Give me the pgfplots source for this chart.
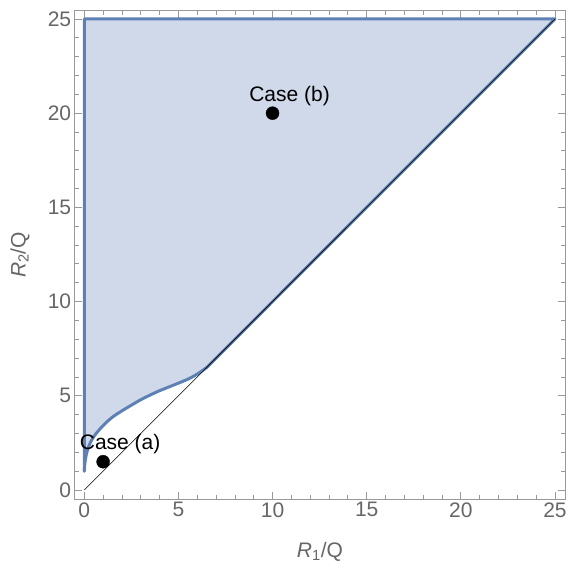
\documentclass[border=0pt]{standalone}
\usepackage{fontspec}
\setmainfont{Liberation Sans}
\usepackage{pgfplots}
\pgfplotsset{compat=1.18}
\definecolor{mblue}{rgb}{0.368,0.507,0.71}
\definecolor{mfill}{RGB}{207,217,233}
\definecolor{tgray}{gray}{0.4}
\definecolor{fgray}{gray}{0.6}
\begin{document}
\begin{tikzpicture}
\useasboundingbox (-74.7pt,-71pt) rectangle (493.3pt,499pt);
\begin{axis}[at={(0,0)},anchor=south west, scale only axis,
  width=490.6pt, height=488.3pt,
  xmin=-0.51, xmax=25.55, ymin=-0.48, ymax=25.44,
  xtick={0,5,...,25}, ytick={0,5,...,25}, minor tick num=4,
  tick align=inside, major tick length=7pt, minor tick length=4pt,
  axis line style={fgray, line width=0.8pt}, tick style={fgray, line width=0.8pt},
  ticklabel style={font=\fontsize{21}{21}\selectfont, text=tgray},
  /pgf/number format/assume math mode=true,
  xlabel={\textit{R}\textsubscript{1}/Q},
  ylabel={\textit{R}\textsubscript{2}/Q},
  label style={font=\fontsize{21}{21}\selectfont, text=tgray},
  xlabel style={at={(axis description cs:0.5,-0.108)}, anchor=center},
  ylabel style={at={(axis description cs:-0.1115,0.5)}, anchor=center},
  clip=false,
]
% filled region
\addplot[fill=mfill, draw=none] coordinates {
 (0,1) (0,25) (25,25) (6.5,6.5) (6,6.15) (5.5,5.88) (5,5.67) (4.5,5.47) (4,5.27)
 (3.5,5.04) (3,4.79) (2.5,4.5) (2,4.2) (1.5,3.87) (1,3.42) (0.5,2.83) (0.25,2.35)
 (0.1,1.85) (0.03,1.4) (0,1)
} -- cycle;
% boundary: left, top, diagonal
\addplot[mblue, line width=3pt, line join=round, line cap=round] coordinates {
 (0,1) (0,25) (25,25) (6.5,6.5)
};
% boundary curve
\addplot[mblue, line width=3pt, smooth, line cap=round] coordinates {
 (0,1) (0.03,1.4) (0.1,1.85) (0.25,2.35) (0.5,2.83) (1,3.42) (1.5,3.87) (2,4.2)
 (2.5,4.5) (3,4.79) (3.5,5.04) (4,5.27) (4.5,5.47) (5,5.67) (5.5,5.88) (6,6.15) (6.5,6.5)
};
% diagonal y = x
\addplot[black, line width=0.6pt] coordinates {(0,0) (25,25)};
% cases
\addplot[only marks, mark=*, mark size=6.5pt, black] coordinates {(1,1.5) (10,20)};
\node[anchor=base, font=\fontsize{21}{21}\selectfont, xshift=17pt, yshift=12pt] at (axis cs:1,1.5) {Case (a)};
\node[anchor=base, font=\fontsize{21}{21}\selectfont, xshift=17pt, yshift=12pt] at (axis cs:10,20) {Case (b)};
\end{axis}
\end{tikzpicture}
\end{document}
